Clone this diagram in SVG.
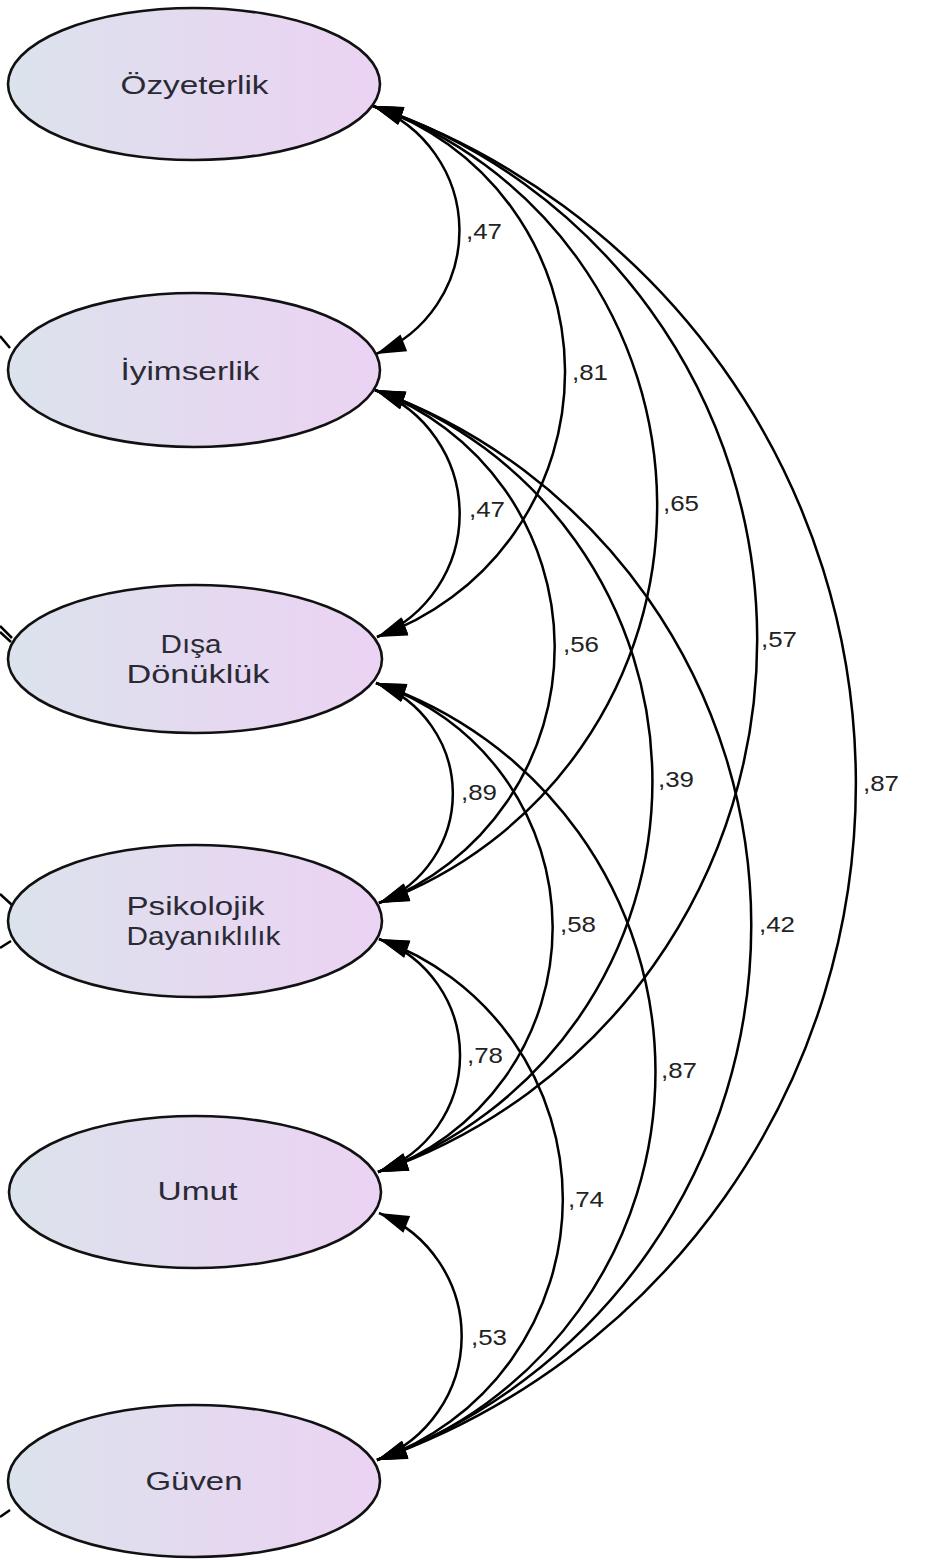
<svg xmlns="http://www.w3.org/2000/svg" width="938" height="1560" viewBox="0 0 938 1560">
<defs>
<linearGradient id="g" x1="0" y1="0" x2="1" y2="0">
<stop offset="0" stop-color="#dbe3ec"/>
<stop offset="0.55" stop-color="#e5d9f0"/>
<stop offset="1" stop-color="#ebd3f3"/>
</linearGradient>
<marker id="ah" markerUnits="userSpaceOnUse" markerWidth="32" markerHeight="20" refX="30" refY="9" orient="auto-start-reverse" overflow="visible">
<path d="M0,0 L30,9 L0,18 z" fill="#000"/>
</marker>
<style>
.node ellipse{fill:url(#g);stroke:#111;stroke-width:2.6}
.node text{font-family:"Liberation Sans",Arial,sans-serif;font-size:25.5px;fill:#2a2a35;text-anchor:middle}
.c path{fill:none;stroke:#000;stroke-width:2.5}
.c path.a{marker-start:url(#ah);marker-end:url(#ah)}
.lbl{font-family:"Liberation Sans",Arial,sans-serif;font-size:22px;fill:#222}
</style>
</defs>
<rect width="938" height="1560" fill="#fff"/>
<g id="connectors" class="c">
<path class="a" d="M373,106 A133,133 0 0 1 376,354"/>
<path class="a" d="M375,390 A133,133 0 0 1 377,637"/>
<path class="a" d="M376,683 A118,118 0 0 1 379,903"/>
<path class="a" d="M379,939 A124,124 0 0 1 378,1172"/>
<path class="a" d="M379,1213 A133,133 0 0 1 377,1460"/>
<path class="a" d="M373,106 A280.5,280.5 0 0 1 377,637"/>
<path class="a" d="M375,390 A274,274 0 0 1 379,903"/>
<path class="a" d="M376,683 A258,258 0 0 1 378,1172"/>
<path class="a" d="M379,939 A276,276 0 0 1 377,1460"/>
<path class="a" d="M373,106 A423,423 0 0 1 379,903"/>
<path class="a" d="M375,390 A415,415 0 0 1 378,1172"/>
<path class="a" d="M376,683 A410,410 0 0 1 377,1460"/>
<path class="a" d="M373,106 A563,563 0 0 1 378,1172"/>
<path class="a" d="M375,390 A569,569 0 0 1 377,1460"/>
<path class="a" d="M373,106 A717,717 0 0 1 377,1460"/>
<path d="M0,336 L10,348"/>
<path d="M0,626 L12,638"/>
<path d="M0,632 L11,642"/>
<path d="M0,894 L12,905"/>
<path d="M0,948 L11,941"/>
<path d="M0,1517 L10,1510"/>
</g>
<g id="labels">
<text class="lbl" x="466" y="239" textLength="36" lengthAdjust="spacingAndGlyphs">,47</text>
<text class="lbl" x="572" y="380" textLength="36" lengthAdjust="spacingAndGlyphs">,81</text>
<text class="lbl" x="663" y="511" textLength="36" lengthAdjust="spacingAndGlyphs">,65</text>
<text class="lbl" x="761" y="647" textLength="36" lengthAdjust="spacingAndGlyphs">,57</text>
<text class="lbl" x="863" y="791" textLength="36" lengthAdjust="spacingAndGlyphs">,87</text>
<text class="lbl" x="469" y="517" textLength="36" lengthAdjust="spacingAndGlyphs">,47</text>
<text class="lbl" x="563" y="652" textLength="36" lengthAdjust="spacingAndGlyphs">,56</text>
<text class="lbl" x="658" y="787" textLength="36" lengthAdjust="spacingAndGlyphs">,39</text>
<text class="lbl" x="759" y="932" textLength="36" lengthAdjust="spacingAndGlyphs">,42</text>
<text class="lbl" x="461" y="800" textLength="36" lengthAdjust="spacingAndGlyphs">,89</text>
<text class="lbl" x="560" y="932" textLength="36" lengthAdjust="spacingAndGlyphs">,58</text>
<text class="lbl" x="661" y="1078" textLength="36" lengthAdjust="spacingAndGlyphs">,87</text>
<text class="lbl" x="467" y="1063" textLength="36" lengthAdjust="spacingAndGlyphs">,78</text>
<text class="lbl" x="568" y="1207" textLength="36" lengthAdjust="spacingAndGlyphs">,74</text>
<text class="lbl" x="471" y="1345" textLength="36" lengthAdjust="spacingAndGlyphs">,53</text>
</g>
<g id="n-ozyeterlik" class="node">
<ellipse cx="194" cy="84" rx="186" ry="76"/>
<text x="194.5" y="94" textLength="148" lengthAdjust="spacingAndGlyphs">Özyeterlik</text>
</g>
<g id="n-iyimserlik" class="node">
<ellipse cx="194" cy="370" rx="186" ry="77"/>
<text x="190" y="380" textLength="139" lengthAdjust="spacingAndGlyphs">İyimserlik</text>
</g>
<g id="n-disadonukluk" class="node">
<ellipse cx="195" cy="659" rx="187" ry="74"/>
<text x="191" y="653" textLength="61" lengthAdjust="spacingAndGlyphs">Dışa</text>
<text x="198" y="683" textLength="143" lengthAdjust="spacingAndGlyphs">Dönüklük</text>
</g>
<g id="n-psikolojik" class="node">
<ellipse cx="195" cy="921" rx="187" ry="76"/>
<text x="195.5" y="915" textLength="138" lengthAdjust="spacingAndGlyphs">Psikolojik</text>
<text x="203.5" y="945" textLength="154" lengthAdjust="spacingAndGlyphs">Dayanıklılık</text>
</g>
<g id="n-umut" class="node">
<ellipse cx="195" cy="1192" rx="186" ry="76"/>
<text x="197.5" y="1200" textLength="80" lengthAdjust="spacingAndGlyphs">Umut</text>
</g>
<g id="n-guven" class="node">
<ellipse cx="194" cy="1481" rx="186" ry="76"/>
<text x="194" y="1490" textLength="97" lengthAdjust="spacingAndGlyphs">Güven</text>
</g>
</svg>
